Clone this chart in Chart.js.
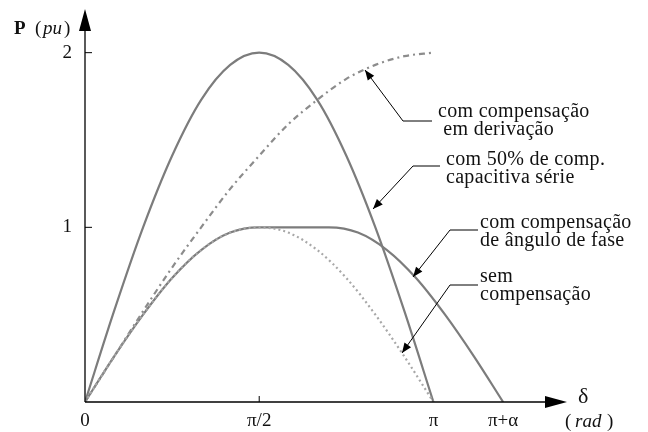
<!DOCTYPE html>
<html>
<head>
<meta charset="utf-8">
<script src="https://cdn.jsdelivr.net/npm/chart.js@4.4.1/dist/chart.umd.min.js"></script>
<style>
  html, body { margin: 0; padding: 0; background: #fff; }
  #wrap { width: 648px; height: 432px; }
</style>
</head>
<body>
<div id="wrap"><canvas id="powerChart"></canvas></div>
<script>
const deltaBase = [0, 15, 30, 45, 60, 75, 90, 105, 120, 135, 150, 165, 180];
const semComp   = [0, 0.26, 0.50, 0.71, 0.87, 0.97, 1.00, 0.97, 0.87, 0.71, 0.50, 0.26, 0];
const serieComp = [0, 0.52, 1.00, 1.41, 1.73, 1.93, 2.00, 1.93, 1.73, 1.41, 1.00, 0.52, 0];
const derivComp = [0, 0.26, 0.52, 0.77, 1.00, 1.22, 1.41, 1.59, 1.73, 1.85, 1.93, 1.98, 2.00];

const deltaFase = [0, 15, 30, 45, 60, 75, 90, 108, 126, 141, 156, 171, 186, 201, 216];
const faseComp  = [0, 0.26, 0.50, 0.71, 0.87, 0.97, 1.00, 1.00, 1.00, 0.97, 0.87, 0.71, 0.50, 0.26, 0];

const xTicks = [0, 90, 180, 216];
const xTickLabels = ['0', 'π/2', 'π', 'π+α'];
const yTicks = [1, 2];
const yTickLabels = ['1', '2'];

const SERIF = '"Liberation Serif", "DejaVu Serif", serif';

function toPoints(xs, ys) {
    return xs.map((x, i) => ({ x: x, y: ys[i] }));
}

// leader lines: text lines, horizontal elbow, arrow tip (pixels)
const notes = [
    { lines: ['com compensação', ' em derivação'], tx: 438, ty: 112, elbow: [[432, 121], [403, 121]], tip: [365, 70] },
    { lines: ['com 50% de comp.', 'capacitiva série'], tx: 446, ty: 160, elbow: [[440, 166], [413, 166]], tip: [373, 209] },
    { lines: ['com compensação', 'de ângulo de fase'], tx: 480, ty: 223, elbow: [[478, 230], [450, 230]], tip: [413, 277] },
    { lines: ['sem', 'compensação'], tx: 480, ty: 277, elbow: [[478, 285], [450, 285]], tip: [402, 353] }
];

function arrowHead(ctx, x0, y0, x1, y1, len, half) {
    const a = Math.atan2(y1 - y0, x1 - x0);
    ctx.beginPath();
    ctx.moveTo(x1, y1);
    ctx.lineTo(x1 - len * Math.cos(a) + half * Math.sin(a), y1 - len * Math.sin(a) - half * Math.cos(a));
    ctx.lineTo(x1 - len * Math.cos(a) - half * Math.sin(a), y1 - len * Math.sin(a) + half * Math.cos(a));
    ctx.closePath();
    ctx.fill();
}

const axesPlugin = {
    id: 'axesPlugin',
    afterDraw(chart) {
        const ctx = chart.ctx;
        const xs = chart.scales.x, ys = chart.scales.y;
        const x0 = xs.getPixelForValue(0), y0 = ys.getPixelForValue(0);
        const area = chart.chartArea;
        ctx.save();
        ctx.strokeStyle = '#000';
        ctx.fillStyle = '#000';
        ctx.lineWidth = 1.3;

        // x axis with arrow
        ctx.beginPath();
        ctx.moveTo(x0, y0);
        ctx.lineTo(area.right - 16, y0);
        ctx.stroke();
        arrowHead(ctx, x0, y0, area.right, y0, 22, 6);

        // y axis with arrow
        ctx.beginPath();
        ctx.moveTo(x0, y0);
        ctx.lineTo(x0, area.top + 16);
        ctx.stroke();
        arrowHead(ctx, x0, y0, x0, area.top, 22, 6);

        // tick marks (inside)
        ctx.lineWidth = 1;
        yTicks.forEach(v => {
            const py = ys.getPixelForValue(v);
            ctx.beginPath();
            ctx.moveTo(x0, py);
            ctx.lineTo(x0 + 7, py);
            ctx.stroke();
        });
        const px = xs.getPixelForValue(90);
        ctx.beginPath();
        ctx.moveTo(px, y0);
        ctx.lineTo(px, y0 - 6);
        ctx.stroke();

        // axis titles
        ctx.fillStyle = '#111';
        ctx.textBaseline = 'alphabetic';
        ctx.textAlign = 'left';
        ctx.font = 'bold 19px ' + SERIF;
        ctx.fillText('P', 14, 34);
        ctx.font = '19px ' + SERIF;
        ctx.fillText('(', 35, 34);
        ctx.font = 'italic 19px ' + SERIF;
        ctx.fillText('pu', 43, 34);
        ctx.font = '19px ' + SERIF;
        ctx.fillText(')', 64, 34);

        ctx.font = '22px ' + SERIF;
        ctx.fillText('δ', 578, 403);
        ctx.font = '19px ' + SERIF;
        ctx.fillText('(', 565, 427);
        ctx.font = 'italic 19px ' + SERIF;
        ctx.fillText('rad', 575, 427);
        ctx.font = '19px ' + SERIF;
        ctx.fillText(')', 607, 427);

        // annotations
        ctx.font = '20px ' + SERIF;
        ctx.letterSpacing = '0.3px';
        ctx.textBaseline = 'middle';
        notes.forEach(n => {
            n.lines.forEach((t, i) => ctx.fillText(t, n.tx, n.ty + i * 18));
            ctx.strokeStyle = '#000';
            ctx.lineWidth = 1;
            ctx.beginPath();
            ctx.moveTo(n.elbow[0][0], n.elbow[0][1]);
            ctx.lineTo(n.elbow[1][0], n.elbow[1][1]);
            ctx.lineTo(n.tip[0], n.tip[1]);
            ctx.stroke();
            ctx.fillStyle = '#000';
            arrowHead(ctx, n.elbow[1][0], n.elbow[1][1], n.tip[0], n.tip[1], 10, 4);
            ctx.fillStyle = '#111';
        });
        ctx.restore();
    }
};

const lineBase = {
    pointRadius: 0,
    fill: false,
    cubicInterpolationMode: 'monotone',
    borderWidth: 2.2
};

new Chart(document.getElementById('powerChart').getContext('2d'), {
    type: 'line',
    data: {
        datasets: [
            Object.assign({ label: 'sem compensação', data: toPoints(deltaBase, semComp),
                borderColor: '#a8a8a8', borderDash: [2, 3] }, lineBase),
            Object.assign({ label: 'com 50% de comp. capacitiva série', data: toPoints(deltaBase, serieComp),
                borderColor: '#7c7c7c' }, lineBase),
            Object.assign({ label: 'com compensação em derivação', data: toPoints(deltaBase, derivComp),
                borderColor: '#8c8c8c', borderDash: [6, 4, 2, 4] }, lineBase),
            Object.assign({ label: 'com compensação de ângulo de fase', data: toPoints(deltaFase, faseComp),
                borderColor: '#7c7c7c' }, lineBase)
        ]
    },
    options: {
        responsive: true,
        maintainAspectRatio: false,
        animation: false,
        layout: { padding: { top: 9, right: 81, left: 0, bottom: 0 } },
        plugins: {
            legend: { display: false },
            tooltip: { enabled: false }
        },
        scales: {
            x: {
                type: 'linear',
                min: 0,
                max: 249,
                grid: { display: false, drawTicks: false },
                border: { display: false },
                afterBuildTicks: scale => { scale.ticks = xTicks.map(v => ({ value: v })); },
                afterFit: scale => { scale.height = 30; },
                ticks: {
                    autoSkip: false,
                    maxRotation: 0,
                    padding: 8,
                    color: '#111',
                    font: { family: SERIF, size: 19 },
                    callback: (value, index) => xTickLabels[index]
                }
            },
            y: {
                type: 'linear',
                min: 0,
                max: 2.25,
                grid: { display: false, drawTicks: false },
                border: { display: false },
                afterBuildTicks: scale => { scale.ticks = yTicks.map(v => ({ value: v })); },
                afterFit: scale => { scale.width = 85; scale.paddingTop = 0; scale.paddingBottom = 0; },
                ticks: {
                    autoSkip: false,
                    padding: 13,
                    color: '#111',
                    font: { family: SERIF, size: 19 },
                    callback: (value, index) => yTickLabels[index]
                }
            }
        }
    },
    plugins: [axesPlugin]
});
</script>
</body>
</html>
